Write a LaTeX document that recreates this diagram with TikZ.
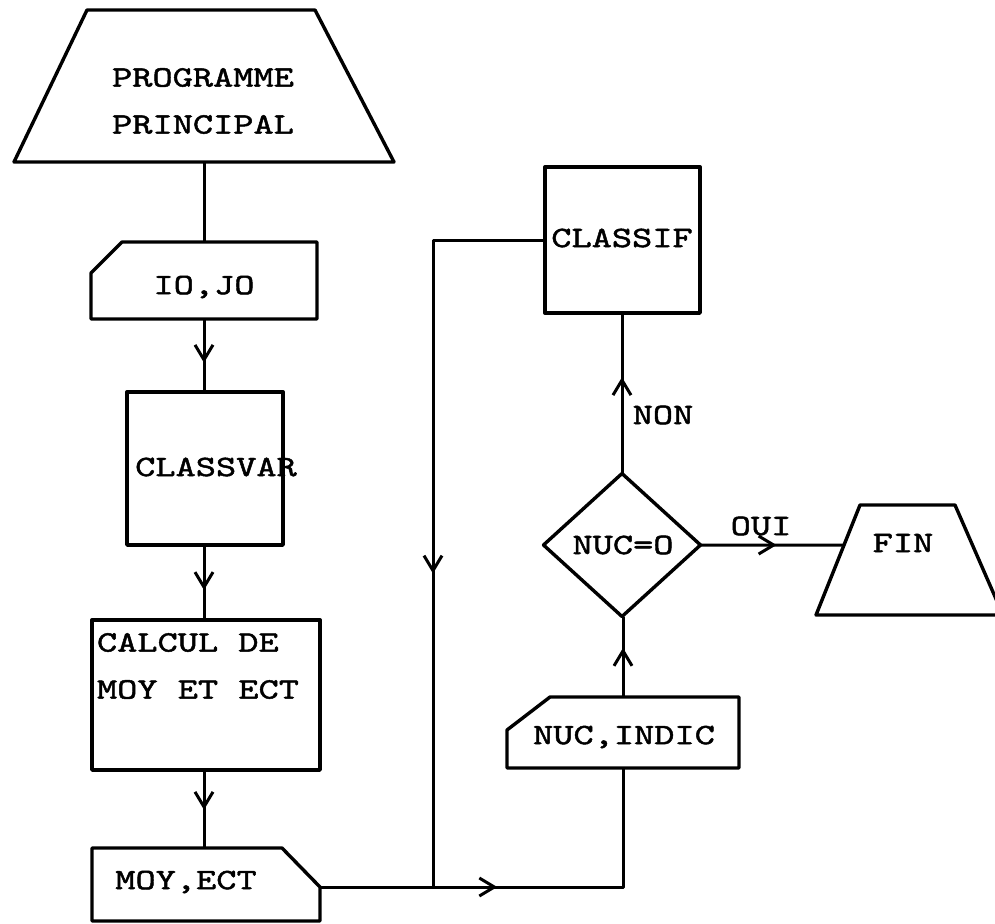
\documentclass[tikz,border=0pt]{standalone}
\usepackage{fontspec}
\newfontfamily\typew{lmmono10-regular.otf}[FakeStretch=1.3,FakeBold=1.6]
\usetikzlibrary{arrows.meta,decorations.markings,shapes.geometric,calc}
\begin{document}
\begin{tikzpicture}[x=0.5pt,y=-0.5pt,
  shp/.style={line width=1.7pt,line join=round},
  wire/.style={line width=1.5pt,line join=round},
  txt/.style={font=\typew\fontsize{14.8}{23.5}\selectfont,inner sep=0pt,outer sep=0pt,align=center},
  hit/.style={rectangle,inner sep=0pt,outer sep=0pt,draw=none},
  rbox/.style={rectangle,draw,shp,inner sep=0pt,outer sep=0pt},
  marrow/.style={postaction={decorate},decoration={markings,mark=at position #1 with {\arrow{Straight Barb[length=7.5pt,width=9pt,line width=1.5pt]}}}}
]
\useasboundingbox (0,0) rectangle (995,923);

% ---- shapes ----
\node[hit,minimum width=190pt,minimum height=76pt] (prog) at (204,86) {};
\draw[shp] ($(prog.north west)+(73,0)$) -- ($(prog.north east)+(-79,0)$) -- (prog.south east) -- (prog.south west) -- cycle;

\node[hit,minimum width=113pt,minimum height=38.5pt] (io) at (204,280.5) {};
\draw[shp] ($(io.north west)+(0,31)$) -- ($(io.north west)+(31,0)$) -- (io.north east) -- (io.south east) -- (io.south west) -- cycle;

\node[rbox,minimum width=78pt,minimum height=76.5pt] (cv) at (205,468.5) {};
\node[rbox,minimum width=114pt,minimum height=75pt] (calc) at (206,695) {};

\node[hit,minimum width=114pt,minimum height=36.5pt] (moy) at (206,884.5) {};
\draw[shp] (moy.north west) -- ($(moy.north east)+(-38,0)$) -- ($(moy.north east)+(0,39)$) -- (moy.south east) -- (moy.south west) -- cycle;

\node[rbox,minimum width=77.5pt,minimum height=73pt] (classif) at (622.5,240) {};

\node[diamond,draw,shp,inner sep=0pt,outer sep=0pt,minimum width=78.5pt,minimum height=71.5pt] (dia) at (622,545) {};

\node[hit,minimum width=116pt,minimum height=35.5pt] (nuc) at (623,732.5) {};
\draw[shp] ($(nuc.north west)+(0,33)$) -- ($(nuc.north west)+(43,0)$) -- (nuc.north east) -- (nuc.south east) -- (nuc.south west) -- cycle;

\node[hit,minimum width=93.5pt,minimum height=55pt] (fin) at (909.5,560) {};
\draw[shp] ($(fin.north west)+(44,0)$) -- ($(fin.north east)+(-48,0)$) -- (fin.south east) -- (fin.south west) -- cycle;
\coordinate (finport) at ($(fin.south west)!0.636!($(fin.north west)+(44,0)$)$);

% ---- texts ----
\node[txt] (tprog) at (203,101) {PROGRAMME\\PRINCIPAL};
\node[txt] (tio) at (204,287) {IO,JO};
\node[txt] (tcv) at (216,467) {CLASSVAR};
\node[txt,align=left,anchor=west] (tcalc) at (97,666) {CALCUL DE\\MOY ET ECT};
\node[txt] (tmoy) at (186,882) {MOY,ECT};
\node[txt] (tclassif) at (622,238) {CLASSIF};
\node[txt] (tdia) at (623,545) {NUC=O};
\node[txt] (tnuc) at (624,737) {NUC,INDIC};
\node[txt] (tfin) at (903,543) {FIN};
\node[txt] (tnon) at (663,415) {NON};
\node[txt] (toui) at (761,526) {OUI};

% ---- connectors ----
\draw[wire] (prog.south) -- (io.north);
\draw[wire,marrow=0.6] (io.south) -- (io.south |- cv.north);
\draw[wire,marrow=0.6] (io.south |- cv.south) -- (io.south |- calc.north);
\draw[wire,marrow=0.51] (io.south |- calc.south) -- (io.south |- moy.north);
\coordinate (moyout) at ($(moy.north east)+(0,39)$);
\coordinate (j) at (433,887);
\draw[wire,marrow=0.42] (moyout) -- (moyout -| nuc.south) -- (nuc.south);
\draw[wire,marrow=0.61] (nuc.north) -- (nuc.north |- dia.south);
\draw[wire,marrow=0.6] (dia.north) -- (dia.north |- classif.south);
\draw[wire,marrow=0.53] (dia.east) -- (finport);
\draw[wire,marrow=0.587] (classif.west) -- (classif.west -| j) -- (j);
\end{tikzpicture}
\end{document}
